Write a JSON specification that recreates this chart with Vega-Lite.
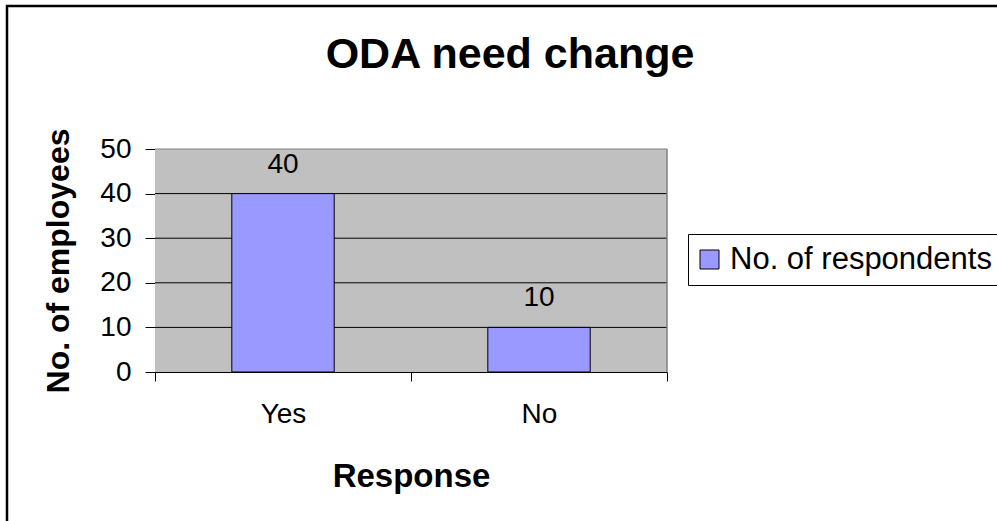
{
  "$schema": "https://vega.github.io/schema/vega-lite/v6.json",
  "width": 990,
  "height": 515,
  "autosize": {"type": "none"},
  "padding": {"left": 7, "top": 6, "right": 0, "bottom": 0},
  "background": "white",
  "title": {
    "text": "ODA need change",
    "font": "Liberation Sans",
    "fontSize": 43,
    "fontWeight": "bold",
    "color": "black",
    "anchor": "middle",
    "frame": "group",
    "offset": -71,
    "dx": 8
  },
  "datasets": {
    "responses": [
      {"Response": "Yes", "Employees": 40, "Series": "No. of respondents"},
      {"Response": "No", "Employees": 10, "Series": "No. of respondents"}
    ],
    "gridlines": [
      {"Grid": 10}, {"Grid": 20}, {"Grid": 30}, {"Grid": 40}, {"Grid": 50}
    ]
  },
  "data": {"name": "responses"},
  "encoding": {
    "x": {
      "field": "Response",
      "type": "nominal",
      "sort": null,
      "scale": {"domain": ["Yes", "No"], "range": [148, 660], "paddingInner": 0, "paddingOuter": 0},
      "axis": {
        "orient": "bottom",
        "offset": -149,
        "title": "Response",
        "titleFont": "Liberation Sans",
        "titleFontSize": 33,
        "titleFontWeight": "bold",
        "titleColor": "black",
        "titlePadding": 32,
        "labelFont": "Liberation Sans",
        "labelFontSize": 28,
        "labelColor": "black",
        "labelAngle": 0,
        "labelPadding": 19,
        "tickBand": "extent",
        "tickSize": 9,
        "tickColor": "black",
        "domainColor": "black",
        "grid": false
      }
    },
    "y": {
      "type": "quantitative",
      "scale": {"domain": [0, 50], "range": [366, 143], "nice": false, "zero": true}
    }
  },
  "layer": [
    {
      "mark": {"type": "rect", "fill": "#C0C0C0"},
      "encoding": {
        "y": {
          "datum": 50,
          "type": "quantitative",
          "axis": {
            "orient": "left",
            "offset": -148,
            "values": [0, 10, 20, 30, 40, 50],
            "title": "No. of employees",
            "titleFont": "Liberation Sans",
            "titleFontSize": 32,
            "titleFontWeight": "bold",
            "titleColor": "black",
            "titlePadding": 24,
            "labelFont": "Liberation Sans",
            "labelFontSize": 28,
            "labelColor": "black",
            "labelPadding": 14,
            "labelFlush": false,
            "tickSize": 10,
            "tickColor": "black",
            "domainColor": "black",
            "grid": false
          }
        },
        "y2": {"datum": 0}
      }
    },
    {
      "data": {"name": "gridlines"},
      "mark": {"type": "rule", "strokeWidth": 1},
      "encoding": {
        "x": {"datum": "Yes", "type": "nominal", "bandPosition": 0},
        "x2": {"datum": "No", "bandPosition": 1},
        "y": {"field": "Grid", "type": "quantitative"},
        "color": {"condition": {"test": "datum.Grid === 50", "value": "#808080"}, "value": "black"}
      }
    },
    {
      "mark": {"type": "rule", "color": "#808080", "strokeWidth": 1},
      "encoding": {
        "x": {"datum": "No", "type": "nominal", "bandPosition": 1},
        "y": {"datum": 0, "type": "quantitative"},
        "y2": {"datum": 50}
      }
    },
    {
      "mark": {"type": "bar", "stroke": "black", "strokeWidth": 1, "width": {"band": 0.4}},
      "encoding": {
        "y": {"field": "Employees", "type": "quantitative"},
        "color": {
          "field": "Series",
          "type": "nominal",
          "scale": {"range": ["#9999FF"]},
          "legend": {
            "title": null,
            "orient": "none",
            "legendX": 681,
            "legendY": 228,
            "strokeColor": "black",
            "fillColor": "white",
            "padding": 10,
            "cornerRadius": 0,
            "symbolType": "square",
            "symbolSize": 361,
            "symbolOffset": -4,
            "symbolStrokeColor": "black",
            "symbolStrokeWidth": 1,
            "symbolOpacity": 1,
            "labelFont": "Liberation Sans",
            "labelFontSize": 31,
            "labelColor": "black",
            "labelOffset": 5,
            "labelLimit": 400
          }
        }
      }
    },
    {
      "mark": {"type": "text", "dy": -15, "baseline": "bottom", "font": "Liberation Sans", "fontSize": 28, "color": "black"},
      "encoding": {
        "y": {"field": "Employees", "type": "quantitative"},
        "text": {"field": "Employees", "type": "quantitative"}
      }
    }
  ],
  "config": {
    "view": {
      "stroke": "black",
      "strokeWidth": 2.5,
      "strokeDash": [990, 1505, 515, 1],
      "fill": "white"
    }
  }
}
